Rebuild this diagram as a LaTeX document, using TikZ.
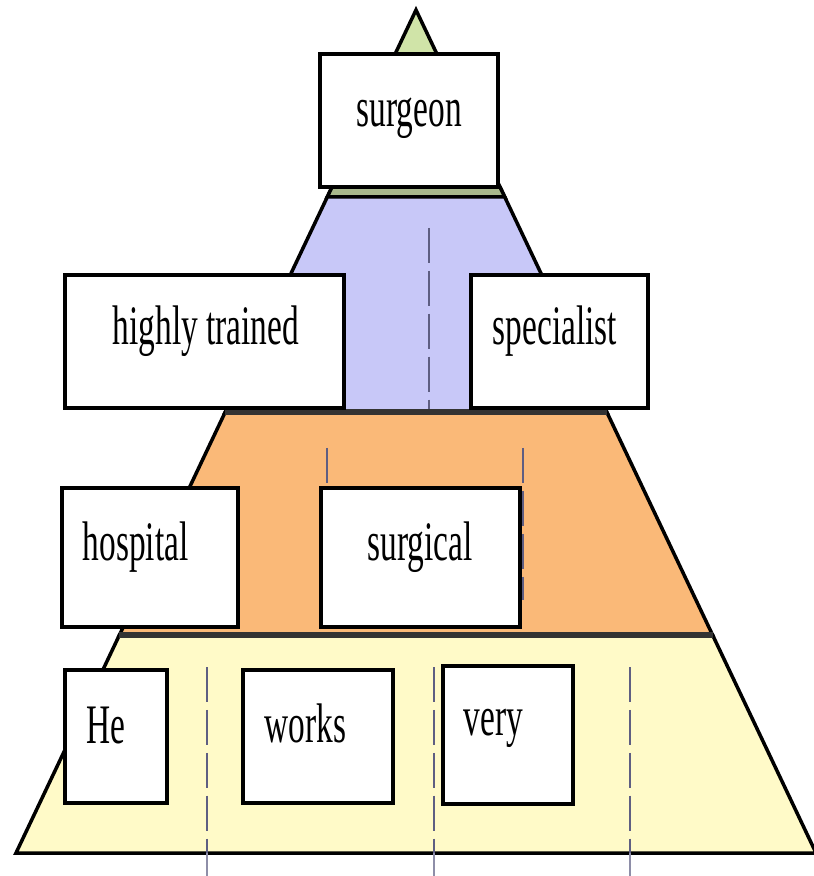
\documentclass[tikz,border=0pt]{standalone}
\usepackage{fontspec}
\setmainfont{Liberation Serif}
\usepackage{graphicx}
\usetikzlibrary{calc}
\definecolor{pyGreen}{HTML}{D0E4A8}
\definecolor{pyOlive}{HTML}{A8B88C}
\definecolor{pyBlue}{HTML}{C8C8F8}
\definecolor{pyOrange}{HTML}{FAB978}
\definecolor{pyYellow}{HTML}{FFFAC8}
\definecolor{pyDash}{HTML}{5E5E82}
\newcommand{\tallword}[1]{\scalebox{1}[1.67]{#1}}

\begin{document}
\begin{tikzpicture}[
  layer/.style={draw=black,line width=1pt},
  seam/.style={draw=black!80,line width=1.8pt},
  box/.style={draw=black,line width=1.1pt,fill=white,inner sep=0pt},
  word/.style={anchor=base west,inner sep=0pt,font=\fontsize{9.5}{11}\selectfont},
  guide/.style={pyDash,line width=0.7pt,dash pattern=on 10pt off 2.2pt},
]
\useasboundingbox (0,0) rectangle (8.13,-8.76);
\coordinate (apex) at (4.16,-0.10);
\coordinate (bl) at (0.16,-8.53);
\coordinate (br) at (8.16,-8.53);
% layer corners on the pyramid sides
\coordinate (s1l) at ($(apex)!0.210!(bl)$);  \coordinate (s1r) at ($(apex)!0.210!(br)$);
\coordinate (s2l) at ($(apex)!0.2218!(bl)$); \coordinate (s2r) at ($(apex)!0.2218!(br)$);
\coordinate (s3l) at ($(apex)!0.4769!(bl)$); \coordinate (s3r) at ($(apex)!0.4769!(br)$);
\coordinate (s4l) at ($(apex)!0.7414!(bl)$); \coordinate (s4r) at ($(apex)!0.7414!(br)$);

\filldraw[layer,fill=pyGreen] (apex) -- (s2r) -- (s2l) -- cycle;
\filldraw[layer,fill=pyOlive] (s1l) -- (s1r) -- (s2r) -- (s2l) -- cycle;
\filldraw[layer,fill=pyBlue] (s2l) -- (s2r) -- (s3r) -- (s3l) -- cycle;
\filldraw[layer,fill=pyOrange] (s3l) -- (s3r) -- (s4r) -- (s4l) -- cycle;
\filldraw[layer,fill=pyYellow] (s4l) -- (s4r) -- (br) -- (bl) -- cycle;

% dashed guides
\draw[guide] (4.29,-2.28) -- (4.29,-4.12);
\draw[guide] (3.27,-4.48) -- (3.27,-4.88);
\draw[guide] (5.23,-4.48) -- (5.23,-6.00);
\foreach \x in {2.07,4.34,6.30} {
  \draw[guide] (\x,-6.67) -- (\x,-8.53);
  \draw[pyDash!70,line width=0.6pt] (\x,-8.53) -- (\x,-8.76);
}
\draw[seam] (s3l) -- (s3r);
\draw[seam] (s4l) -- (s4r);

% word boxes
\node[box,minimum width=1.78cm,minimum height=1.33cm] (surg)  at (4.09,-1.205) {};
\node[box,minimum width=2.79cm,minimum height=1.33cm] (train) at (2.045,-3.415) {};
\node[box,minimum width=1.77cm,minimum height=1.33cm] (spec)  at (5.595,-3.415) {};
\node[box,minimum width=1.76cm,minimum height=1.39cm] (hosp)  at (1.50,-5.575) {};
\node[box,minimum width=1.99cm,minimum height=1.39cm] (surgc) at (4.205,-5.575) {};
\node[box,minimum width=1.02cm,minimum height=1.33cm] (he)    at (1.16,-7.365) {};
\node[box,minimum width=1.50cm,minimum height=1.33cm] (works) at (3.18,-7.365) {};
\node[box,minimum width=1.30cm,minimum height=1.38cm] (very)  at (5.08,-7.35) {};

\node[word] (surg-w)  at (3.56,-1.27)  {\tallword{surgeon}};
\node[word] (train-w) at (1.12,-3.45)  {\tallword{highly trained}};
\node[word] (spec-w)  at (4.92,-3.45)  {\tallword{specialist}};
\node[word] (hosp-w)  at (0.82,-5.60)  {\tallword{hospital}};
\node[word] (surgc-w) at (3.67,-5.60)  {\tallword{surgical}};
\node[word] (he-w)    at (0.86,-7.43)  {\tallword{He}};
\node[word] (works-w) at (2.64,-7.42)  {\tallword{works}};
\node[word] (very-w)  at (4.63,-7.35)  {\tallword{very}};
\end{tikzpicture}
\end{document}
